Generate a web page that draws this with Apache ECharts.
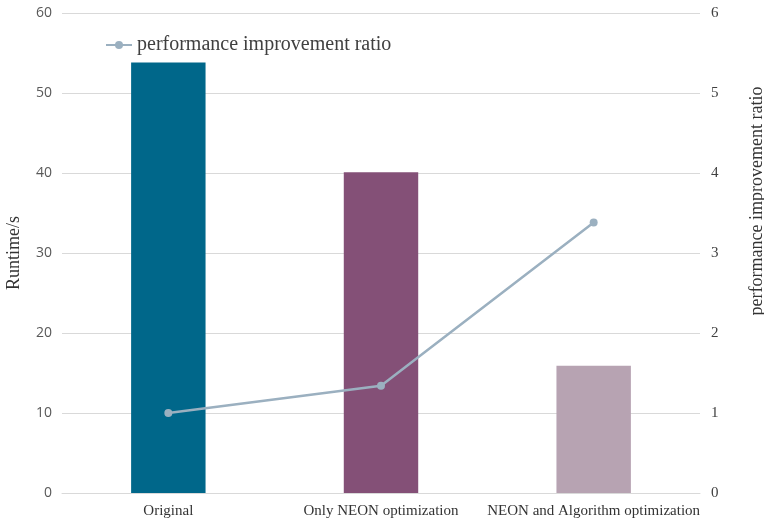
<!DOCTYPE html>
<html>
<head>
<meta charset="utf-8">
<script src="https://cdn.jsdelivr.net/npm/echarts@6/dist/echarts.min.js"></script>
<style>
  html, body { margin: 0; padding: 0; background: #fff; }
  #chart { width: 764px; height: 523px; }
</style>
</head>
<body>
<div id="chart"></div>
<script>
// Runtime of each build and the speed-up it gives over the original
const categories = ['Original', 'Only NEON optimization', 'NEON and Algorithm optimization'];
const runtimeSeconds = [53.8, 40.1, 15.9];
const improvementRatio = [1.0, 1.34, 3.38];
const barColors = ['#00678a', '#845077', '#b7a3b2'];
const runtimeTicks = { min: 0, max: 60, interval: 10 };
const ratioTicks = { min: 0, max: 6, interval: 1 };

const serif = '"Liberation Serif", "Times New Roman", serif';
const chart = echarts.init(document.getElementById('chart'));

chart.setOption({
  animation: false,
  legend: {
    data: ['performance improvement ratio'],
    left: 100,
    top: 30,
    itemWidth: 26,
    itemHeight: 10,
    itemGap: 8,
    textStyle: { fontFamily: serif, fontSize: 20, color: '#404040' }
  },
  grid: { left: 62, right: 64, top: 13, bottom: 30, outerBoundsMode: 'none' },
  xAxis: {
    type: 'category',
    data: categories,
    axisLine: { lineStyle: { color: '#d9d9d9' } },
    axisTick: { show: false },
    axisLabel: { interval: 0, fontFamily: serif, fontSize: 15, color: '#333', margin: 11 }
  },
  yAxis: [
    {
      type: 'value',
      min: runtimeTicks.min, max: runtimeTicks.max, interval: runtimeTicks.interval,
      name: 'Runtime/s',
      nameLocation: 'middle',
      nameRotate: 90,
      nameGap: 39,
      nameTextStyle: { fontFamily: serif, fontSize: 18, color: '#333' },
      axisLabel: { fontFamily: '"Open Sans", sans-serif', fontSize: 14, color: '#595959', margin: 10 },
      splitLine: { lineStyle: { color: '#d9d9d9' } },
      axisLine: { show: false },
      axisTick: { show: false }
    },
    {
      type: 'value',
      min: ratioTicks.min, max: ratioTicks.max, interval: ratioTicks.interval,
      name: 'performance improvement ratio',
      nameLocation: 'middle',
      nameRotate: 90,
      nameGap: 48,
      nameTextStyle: { fontFamily: serif, fontSize: 18, color: '#333', padding: [0, 0, 0, 104] },
      axisLabel: { fontFamily: serif, fontSize: 15, color: '#404040', margin: 11 },
      splitLine: { show: false },
      axisLine: { show: false },
      axisTick: { show: false }
    }
  ],
  series: [
    {
      name: 'Runtime',
      type: 'bar',
      yAxisIndex: 0,
      barWidth: '35%',
      data: runtimeSeconds.map((v, i) => ({ value: v, itemStyle: { color: barColors[i] } }))
    },
    {
      name: 'performance improvement ratio',
      type: 'line',
      yAxisIndex: 1,
      data: improvementRatio,
      symbol: 'circle',
      symbolSize: 8,
      lineStyle: { color: '#9bb0c0', width: 2.5 },
      itemStyle: { color: '#9bb0c0' }
    }
  ]
});
</script>
</body>
</html>
